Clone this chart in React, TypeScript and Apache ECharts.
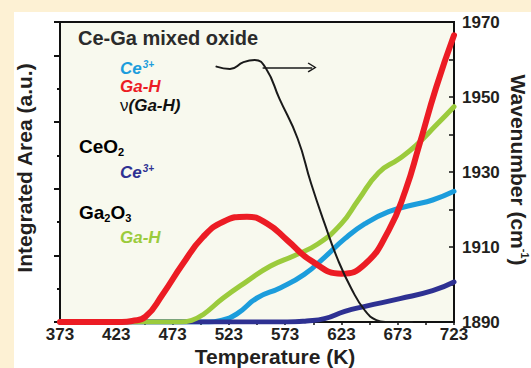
import React, { useEffect, useRef } from "react";
import * as echarts from "echarts";

// Axis ticks and labels
const xTickLabels = [373, 423, 473, 523, 573, 623, 673, 723];
const xTicks = [373, 398, 423, 448, 473, 498, 523, 548, 573, 598, 623, 648, 673, 698, 723];
const wavenumberLabels = [1890, 1910, 1930, 1950, 1970];
const wavenumberTicks = [1890, 1900, 1910, 1920, 1930, 1940, 1950, 1960, 1970];

// Ce-Ga mixed oxide: Ce3+ integrated area
const ceMixedT = [373, 505, 515, 530, 548, 569, 590, 608, 626, 644, 665, 686, 704, 723];
const ceMixedArea = [0, 0, 0.4, 2.4, 7.2, 10.3, 14.3, 19.4, 25, 29.5, 33.1, 35.1, 36.6, 39.2];

// CeO2: Ce3+ integrated area
const ceO2T = [373, 575, 592, 608, 626, 644, 675, 704, 723];
const ceO2Area = [0, 0, 0.3, 1.0, 3.2, 4.7, 7.0, 9.4, 12];

// Ga2O3: Ga-H integrated area
const ga2o3T = [373, 480, 490, 500, 518, 539, 560, 581, 602, 623, 638, 656, 674, 689, 707, 723];
const ga2o3Area = [0, 0, 0.5, 2.2, 7.2, 12.2, 16.8, 19.9, 23.4, 29.5, 36.6, 44.8, 48.9, 52.9, 59, 64.6];

// Ce-Ga mixed oxide: Ga-H integrated area
const gaMixedT = [373, 428, 437, 449, 464, 482, 500, 518, 539, 557, 575, 596, 623, 644, 665, 680, 692, 707, 723];
const gaMixedArea = [0, 0, 0.3, 1.6, 8.2, 17.4, 25.5, 30.1, 31.6, 29.5, 24.5, 18.4, 14.5, 17.4, 27.5, 39.6, 52.9, 70.2, 86];

// Ce-Ga mixed oxide: nu(Ga-H) wavenumber
const nuT = [512, 524, 536, 546, 556, 568, 584, 596, 608, 620, 632, 644, 654, 662, 686];
const nuWavenumber = [1958.1, 1957.5, 1959.3, 1959.9, 1957.6, 1949.5, 1939, 1927, 1916.3, 1906.5, 1898.8, 1893, 1890.5, 1890, 1890];

// Arrow pointing to the right axis
const arrowT = [553, 597];
const arrowWavenumber = [1957.9, 1957.9];

const zip = (xs: number[], ys: number[]) => xs.map((x, i) => [x, ys[i]]);

const FONT = "'Liberation Sans', Arial, Helvetica, sans-serif";
const TXT = "#231f20";

export default function App() {
  const ref = useRef<HTMLDivElement>(null);
  useEffect(() => {
    if (!ref.current) return;
    const chart = echarts.init(ref.current, null, { renderer: "svg" });
    const lineSeries = (data: number[][], color: string, width: number, yAxisIndex = 0) => ({
      type: "line",
      data,
      yAxisIndex,
      smooth: 0.5,
      showSymbol: false,
      symbol: "none",
      lineStyle: { color, width, cap: "round", join: "round" },
      itemStyle: { color },
      silent: true,
    });
    const black = lineSeries(zip(nuT, nuWavenumber), "#1a1a1a", 2, 2) as any;
    black.markLine = {
      silent: true,
      symbol: ["none", "path://M5,0 L10,9 L8.8,10 L5,2.8 L1.2,10 L0,9 Z"],
      symbolSize: [10, 9],
      label: { show: false },
      lineStyle: { color: "#1a1a1a", width: 1.5, type: "solid" },
      data: [[{ coord: [arrowT[0], arrowWavenumber[0]] }, { coord: [arrowT[1], arrowWavenumber[1]] }]],
    };
    const t = (text: string, x: number, y: number, rich: any) => ({
      type: "text",
      x,
      y,
      silent: true,
      style: { text, rich, textVerticalAlign: "middle", textAlign: "left" },
    });
    const bi = (color: string, size = 17) => ({ fontFamily: FONT, fontSize: size, fontWeight: "bold", fontStyle: "italic", fill: color, lineHeight: 17 });
    const sup = (color: string) => ({ fontFamily: FONT, fontSize: 10, fontWeight: "bold", fontStyle: "italic", fill: color, verticalAlign: "top", lineHeight: 17, padding: [0, 0, 4, 1] });
    const b = (color: string, size = 19) => ({ fontFamily: FONT, fontSize: size, fontWeight: "bold", fill: color, lineHeight: 22 });
    const sub = (color: string) => ({ fontFamily: FONT, fontSize: 11, fontWeight: "bold", fill: color, verticalAlign: "bottom", lineHeight: 22, padding: [8, 0, 0, 0] });

    chart.setOption({
      animation: false,
      backgroundColor: "transparent",
      grid: {
        left: 60,
        right: 77,
        top: 22,
        bottom: 46,
        show: true,
        backgroundColor: "#f8f9ee",
        borderColor: "#111",
        borderWidth: 2,
      },
      xAxis: {
        type: "value",
        min: 373,
        max: 723,
        axisLine: { lineStyle: { color: "#111", width: 2 } },
        axisTick: { customValues: xTicks, length: 3, inside: false, lineStyle: { color: "#111", width: 1.5 } },
        axisLabel: {
          customValues: xTickLabels,
          margin: 4,
          color: TXT,
          fontFamily: FONT,
          fontWeight: "bold",
          fontSize: 17,
          formatter: (v: number) => String(v),
        },
        splitLine: { show: false },
      },
      yAxis: [
        {
          type: "value",
          position: "left",
          min: 0,
          max: 90,
          interval: 20,
          axisLine: { show: true, lineStyle: { color: "#111", width: 2 } },
          axisTick: { show: true, length: 6, lineStyle: { color: "#111", width: 2 } },
          axisLabel: { show: false },
          splitLine: { show: false },
        },
        {
          type: "value",
          position: "left",
          min: 0,
          max: 90,
          interval: 10,
          axisLine: { show: true, lineStyle: { color: "#111", width: 2 } },
          axisTick: { show: true, length: 3, lineStyle: { color: "#111", width: 2 } },
          axisLabel: { show: false },
          splitLine: { show: false },
        },
        {
          type: "value",
          position: "right",
          min: 1890,
          max: 1970,
          axisLine: { show: true, lineStyle: { color: "#111", width: 2 } },
          axisTick: { show: true, customValues: wavenumberTicks, inside: true, length: 5, lineStyle: { color: "#111", width: 1.5 } },
          axisLabel: {
            customValues: wavenumberLabels,
            margin: 8,
            color: TXT,
            fontFamily: FONT,
            fontWeight: "bold",
            fontSize: 17,
            formatter: (v: number) => String(v),
          },
          splitLine: { show: false },
        },
      ],
      series: [
        lineSeries(zip(ceMixedT, ceMixedArea), "#1c9ddc", 5),
        lineSeries(zip(ceO2T, ceO2Area), "#2e3192", 5),
        lineSeries(zip(ga2o3T, ga2o3Area), "#9bcb3c", 5),
        lineSeries(zip(gaMixedT, gaMixedArea), "#ec1c24", 6),
        black,
      ],
      graphic: [
        t("{a|Ce-Ga mixed oxide}", 78, 38, { a: b("#2b2b2b", 20) }),
        t("{a|Ce}{s|3+}", 120, 68, { a: bi("#1c9ddc"), s: sup("#1c9ddc") }),
        t("{a|Ga-H}", 120, 86, { a: bi("#ec1c24") }),
        t("{n|ν}{a|(Ga-H)}", 120, 105, {
          n: { fontFamily: FONT, fontSize: 17, fill: "#111", lineHeight: 17 },
          a: bi("#111"),
        }),
        t("{a|CeO}{s|2}", 79, 146, { a: b("#000"), s: sub("#000") }),
        t("{a|Ce}{s|3+}", 120, 172, { a: bi("#2e3192"), s: sup("#2e3192") }),
        t("{a|Ga}{s|2}{a|O}{s|3}", 79, 212, { a: b("#000"), s: sub("#000") }),
        t("{a|Ga-H}", 120, 237, { a: bi("#9bcb3c") }),
        {
          type: "text",
          x: 275,
          y: 356,
          silent: true,
          style: {
            text: "Temperature (K)",
            font: `bold 21px ${FONT}`,
            fill: TXT,
            textAlign: "center",
            textVerticalAlign: "middle",
          },
        },
        {
          type: "text",
          x: 24,
          y: 168,
          rotation: Math.PI / 2,
          silent: true,
          style: {
            text: "Integrated Area (a.u.)",
            font: `bold 21px ${FONT}`,
            fill: TXT,
            textAlign: "center",
            textVerticalAlign: "middle",
          },
        },
        {
          type: "text",
          x: 518,
          y: 170,
          rotation: -Math.PI / 2,
          silent: true,
          style: {
            text: "{a|Wavenumber (cm}{s|-1}{a|)}",
            textAlign: "center",
            textVerticalAlign: "middle",
            rich: {
              a: { fontFamily: FONT, fontSize: 21, fontWeight: "bold", fill: TXT, lineHeight: 24 },
              s: { fontFamily: FONT, fontSize: 11, fontWeight: "bold", fill: TXT, verticalAlign: "top", lineHeight: 24, padding: [0, 0, 8, 0] },
            },
          },
        },
      ],
    });
    return () => chart.dispose();
  }, []);

  return (
    <div style={{ position: "fixed", left: 0, top: 0, width: 531, height: 368, background: "#fdf1d4", overflow: "hidden" }}>
      <div style={{ position: "absolute", left: 14, top: 12, width: 517, height: 356, background: "#ffffff" }} />
      <div ref={ref} style={{ position: "absolute", left: 0, top: 0, width: 531, height: 368 }} />
    </div>
  );
}
